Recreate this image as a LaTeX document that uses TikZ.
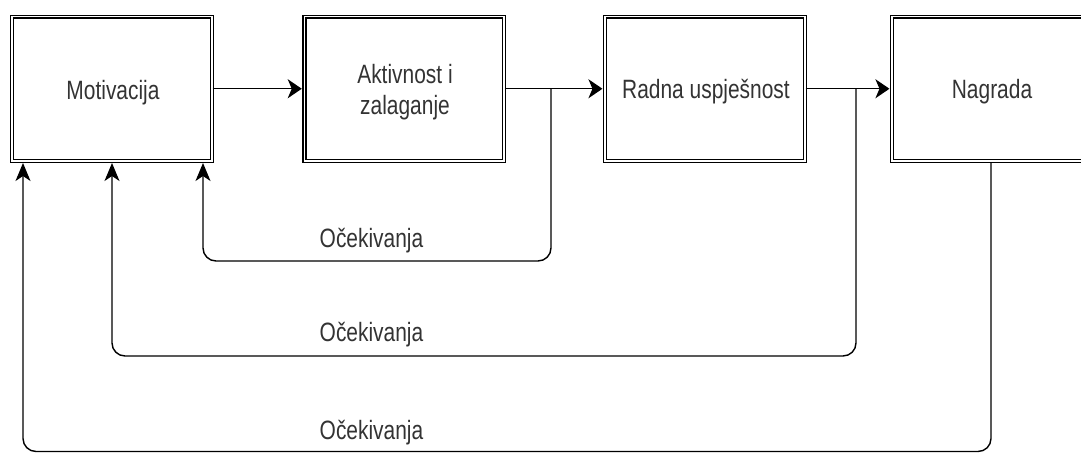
\documentclass[tikz,border=0pt]{standalone}
\usepackage{fontspec}
\setmainfont{Liberation Sans}
\usetikzlibrary{arrows.meta}
\definecolor{txt}{RGB}{51,51,51}
\newcommand{\sq}[1]{\scalebox{0.79}[1]{#1}}
\begin{document}
\begin{tikzpicture}[x=1pt,y=-1pt,
  box/.style={draw=black, double=white, line width=1.3pt, double distance=1.6pt,
    minimum width=199.8pt, minimum height=144.3pt, inner sep=0pt},
  lbl/.style={anchor=base, inner sep=0pt, text=txt, font=\fontsize{26.5}{33}\selectfont},
  harr/.style={draw=black, line width=1.4pt, -{Stealth[length=14pt,width=19pt,inset=4pt]}},
  varr/.style={draw=black, line width=1.4pt, rounded corners=13pt, -{Stealth[length=18pt,width=15pt,inset=5pt]}}]
\useasboundingbox (0,0) rectangle (1081,453);
\clip (0,0) rectangle (1081,453);
% boxes
\node[box] (mot) at (112,88.75) {};
\node[box] (akt) at (404.3,88.75) {};
\node[box] (rad) at (705,88.75) {};
\node[box] (nag) at (992,88.75) {};
% box texts
\node[lbl] (tmot) at (113,99) {\sq{Motivacija}};
\node[lbl] (takt1) at (405,83) {\sq{Aktivnost i}};
\node[lbl] (takt2) at (405,114) {\sq{zalaganje}};
\node[lbl] (trad) at (706,98) {\sq{Radna uspješnost}};
\node[lbl] (tnag) at (992,98) {\sq{Nagrada}};
% forward arrows
\draw[harr, shorten >=2pt] (mot.east) -- (akt.west);
\draw[harr, shorten >=2pt] (akt.east) -- (rad.west);
\draw[harr, shorten >=2pt] (rad.east) -- (nag.west);
% feedback coordinates
\coordinate (b1) at (551,89);
\coordinate (b2) at (856,89);
\coordinate (b3) at (991,163);
\coordinate (c1) at (203,261);
\coordinate (c2) at (112,356);
\coordinate (c3) at (23,451.5);
\coordinate (m1) at (203,163);
\coordinate (m2) at (112,163);
\coordinate (m3) at (23,163);
\draw[varr] (b1) |- (c1) -- (m1);
\draw[varr] (b2) |- (c2) -- (m2);
\draw[varr] (b3) |- (c3) -- (m3);
% labels
\node[lbl] (o1) at (371.5,247) {\sq{Očekivanja}};
\node[lbl] (o2) at (371.5,341) {\sq{Očekivanja}};
\node[lbl] (o3) at (371.5,439) {\sq{Očekivanja}};
\end{tikzpicture}
\end{document}
